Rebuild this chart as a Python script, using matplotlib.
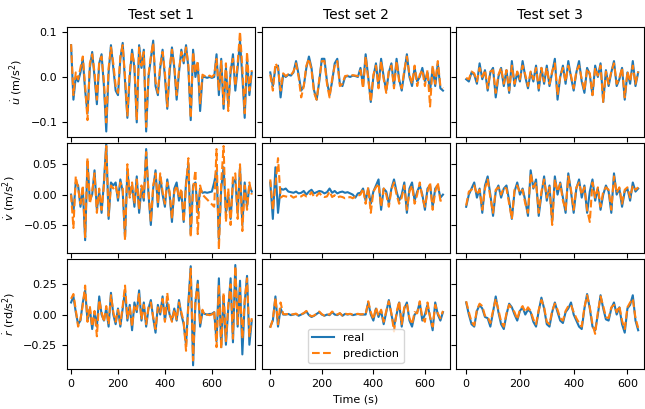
import numpy as np
import matplotlib
matplotlib.use("Agg")
import matplotlib.pyplot as plt

plt.rcParams["font.size"] = 8

# sample times (s), one sample every 10 s
t_set1 = np.arange(0, 780, 10)
t_set2 = np.arange(0, 680, 10)
t_set3 = np.arange(0, 650, 10)

# u_dot (m/s^2)
u1_real = [0.07, -0.05, 0.0, -0.01, 0.01, 0.04, -0.03, -0.08, 0.02, 0.055,
           0.0, -0.06, 0.03, 0.05, -0.02, -0.12, 0.01, 0.07, 0.02, -0.03,
           -0.04, 0.04, 0.075, -0.01, -0.09, 0.0, 0.06, 0.02, -0.10, 0.07,
           0.02, 0.06, -0.12, 0.0, 0.04, 0.08, -0.02, -0.04, 0.02, 0.06,
           0.0, -0.07, 0.01, 0.065, 0.02, -0.05, 0.01, 0.06, 0.03, 0.07,
           0.02, -0.095, 0.06, 0.0, 0.03, -0.075, 0.0, 0.0, -0.002, 0.0,
           -0.002, 0.0, 0.05, -0.04, 0.04, -0.07, 0.02, -0.06, 0.01, 0.05,
           -0.03, 0.02, 0.08, 0.0, -0.09, 0.04, -0.04, 0.01]
u1_pred = [0.072, -0.04, 0.01, -0.005, 0.02, 0.045, -0.02, -0.095, 0.03, 0.05,
           0.01, -0.05, 0.035, 0.045, -0.01, -0.10, 0.02, 0.065, 0.03, -0.02,
           -0.035, 0.045, 0.07, 0.0, -0.085, 0.01, 0.055, 0.025, -0.095, 0.065,
           0.025, 0.055, -0.11, 0.005, 0.045, 0.075, -0.01, -0.035, 0.025, 0.055,
           0.01, -0.065, 0.02, 0.06, 0.025, -0.04, 0.015, 0.055, 0.035, 0.065,
           0.025, -0.09, 0.055, 0.01, 0.035, -0.06, 0.005, 0.002, 0.0, 0.003,
           0.0, 0.005, 0.04, -0.03, 0.035, -0.06, 0.03, -0.075, 0.02, 0.04,
           -0.02, 0.03, 0.10, 0.02, -0.08, 0.055, -0.03, 0.015]
u2_real = [0.01, -0.02, 0.02, 0.025, -0.045, 0.005, 0.0, 0.005, 0.003, 0.01,
           0.035, 0.005, -0.03, -0.02, 0.02, 0.045, 0.02, -0.03, -0.05, -0.01,
           0.04, 0.04, -0.01, -0.04, -0.01, 0.03, 0.04, -0.015, -0.02, 0.0,
           0.002, 0.0, 0.003, 0.002, 0.0, 0.02, -0.02, 0.05, 0.0, -0.055,
           0.0, 0.03, -0.02, 0.04, 0.0, -0.03, 0.01, 0.03, -0.02, 0.04,
           -0.005, -0.03, 0.01, 0.05, 0.0, -0.02, 0.02, -0.01, 0.0, 0.02,
           -0.01, 0.01, -0.03, 0.02, -0.02, 0.03, -0.025, -0.03]
u2_pred = [0.005, -0.03, 0.03, 0.02, -0.03, 0.008, 0.002, 0.006, 0.004, 0.012,
           0.03, 0.0, -0.045, -0.02, 0.025, 0.04, 0.015, -0.035, -0.05, -0.005,
           0.035, 0.035, -0.015, -0.045, -0.005, 0.025, 0.035, -0.02, -0.015, 0.002,
           0.003, 0.002, 0.004, 0.003, 0.002, 0.015, -0.025, 0.045, -0.005, -0.055,
           0.005, 0.025, -0.025, 0.035, -0.005, -0.035, 0.015, 0.025, -0.025, 0.035,
           -0.01, -0.025, 0.015, 0.045, 0.005, -0.015, 0.025, -0.02, 0.005, 0.015,
           -0.02, 0.015, -0.065, 0.025, -0.015, 0.035, -0.02, -0.025]
u3_real = [-0.005, -0.01, 0.01, 0.005, -0.015, 0.03, -0.005, 0.015, -0.03, 0.01,
           0.02, -0.045, 0.0, 0.02, -0.02, 0.015, -0.035, 0.035, -0.02, 0.01,
           -0.01, 0.035, 0.0, -0.025, 0.01, -0.01, 0.025, -0.03, 0.02, -0.015,
           0.025, -0.02, 0.01, 0.04, -0.05, 0.0, 0.025, -0.015, 0.035, 0.0,
           -0.03, 0.01, 0.035, -0.01, -0.035, 0.02, 0.005, -0.04, 0.025, 0.0,
           0.03, -0.055, 0.015, -0.02, 0.01, 0.035, -0.02, -0.005, 0.02, -0.05,
           0.01, -0.015, 0.035, -0.02, 0.01]
u3_pred = [-0.002, -0.005, 0.012, 0.008, -0.01, 0.02, 0.0, 0.015, -0.025, 0.012,
           0.015, -0.035, 0.005, 0.02, -0.015, 0.015, -0.03, 0.025, -0.015, 0.012,
           -0.005, 0.025, 0.005, -0.02, 0.012, -0.005, 0.02, -0.025, 0.02, -0.01,
           0.02, -0.015, 0.012, 0.03, -0.04, 0.002, 0.02, -0.01, 0.025, 0.003,
           -0.025, 0.012, 0.025, -0.005, -0.03, 0.018, 0.008, -0.04, 0.02, 0.003,
           0.025, -0.055, 0.012, -0.015, 0.012, 0.03, -0.015, -0.002, 0.02, -0.045,
           0.012, -0.01, 0.025, -0.015, 0.012]

# v_dot (m/s^2)
v1_real = [0.0, -0.03, 0.02, 0.015, -0.02, 0.01, -0.075, 0.055, -0.01, 0.0,
           0.04, -0.025, 0.005, -0.03, 0.02, 0.085, -0.04, 0.02, 0.015, 0.02,
           -0.01, 0.025, 0.005, -0.07, 0.04, 0.0, 0.015, -0.02, 0.03, -0.03,
           0.01, -0.01, 0.075, 0.0, -0.05, 0.01, 0.04, -0.02, 0.03, 0.0,
           -0.02, 0.025, 0.0, -0.045, 0.01, 0.02, -0.01, 0.005, -0.045, 0.02,
           0.05, -0.065, 0.015, 0.02, -0.03, 0.01, 0.003, 0.004, 0.003, 0.004,
           0.005, 0.02, 0.04, -0.075, 0.01, 0.045, -0.03, 0.0, -0.04, 0.02,
           0.025, -0.03, 0.045, -0.05, 0.02, -0.02, 0.015, 0.005]
v1_pred = [0.0, -0.055, 0.03, 0.01, -0.015, 0.015, -0.07, 0.06, -0.015, 0.005,
           0.035, -0.03, 0.01, -0.025, 0.015, 0.08, -0.035, 0.015, 0.01, 0.015,
           -0.005, 0.02, 0.01, -0.075, 0.05, -0.005, 0.02, -0.015, 0.025, -0.025,
           0.015, -0.005, 0.07, 0.005, -0.045, 0.015, 0.035, -0.015, 0.035, 0.005,
           -0.015, 0.02, 0.005, -0.04, 0.005, 0.015, -0.005, 0.01, -0.045, 0.015,
           0.06, -0.07, 0.01, 0.04, -0.065, 0.015, 0.0, -0.004, -0.008, -0.012,
           -0.016, -0.02, 0.075, -0.09, 0.02, 0.08, -0.045, 0.01, -0.05, 0.03,
           0.035, -0.04, 0.05, -0.06, 0.015, -0.025, 0.02, 0.0]
v2_real = [0.02, -0.04, 0.045, -0.03, 0.01, 0.008, 0.01, 0.005, 0.004, 0.003,
           0.005, 0.002, 0.003, 0.006, 0.0, 0.005, 0.008, 0.002, 0.004, 0.006,
           0.005, 0.002, 0.004, 0.01, 0.003, 0.006, 0.002, 0.004, 0.005, 0.003,
           0.004, 0.002, 0.0, -0.005, 0.002, 0.003, 0.01, -0.01, 0.01, -0.015,
           0.005, 0.015, 0.025, -0.025, 0.01, 0.005, -0.015, 0.01, 0.025, 0.005,
           -0.01, 0.0, 0.02, -0.03, 0.01, 0.02, -0.01, 0.005, 0.015, 0.0,
           -0.025, 0.01, 0.015, -0.02, 0.01, 0.015, -0.005, 0.0]
v2_pred = [0.025, -0.025, 0.015, 0.06, -0.005, -0.002, -0.003, -0.004, -0.002, -0.005,
           -0.003, -0.004, -0.003, 0.0, -0.003, -0.002, 0.004, -0.004, -0.002, 0.003,
           -0.002, -0.004, -0.003, 0.005, -0.004, -0.001, -0.005, -0.003, -0.004, -0.006,
           -0.005, -0.004, -0.006, -0.003, -0.002, 0.0, 0.01, -0.015, 0.012, -0.03,
           0.005, 0.012, 0.018, -0.02, 0.01, 0.0, -0.02, 0.008, 0.02, 0.0,
           -0.015, -0.005, 0.015, -0.025, 0.005, 0.015, -0.015, 0.0, 0.02, -0.005,
           -0.02, 0.005, 0.02, -0.025, 0.005, 0.02, -0.01, -0.01]
v3_real = [-0.02, 0.0, 0.01, 0.02, -0.005, 0.01, -0.03, 0.015, 0.03, 0.0,
           -0.035, 0.005, 0.015, -0.005, 0.01, 0.015, -0.01, -0.04, 0.005, 0.02,
           0.0, 0.01, -0.01, -0.035, 0.04, 0.01, 0.025, -0.035, 0.0, 0.03,
           -0.01, 0.015, -0.045, 0.03, 0.0, 0.02, -0.005, -0.03, 0.035, 0.005,
           -0.03, 0.01, 0.025, -0.005, 0.015, -0.03, 0.005, 0.025, -0.01, 0.01,
           -0.025, 0.0, 0.015, 0.005, -0.03, 0.035, 0.0, 0.01, -0.02, 0.005,
           0.01, -0.01, 0.02, 0.005, 0.01]
v3_pred = [-0.018, 0.005, 0.008, 0.015, 0.0, 0.008, -0.025, 0.01, 0.025, -0.005,
           -0.03, 0.008, 0.012, 0.0, 0.012, 0.01, -0.015, -0.04, 0.008, 0.015,
           0.003, 0.008, -0.015, -0.03, 0.035, 0.012, 0.02, -0.03, 0.005, 0.025,
           -0.005, 0.012, -0.05, 0.025, 0.005, 0.018, -0.01, -0.025, 0.03, 0.008,
           -0.025, 0.012, 0.02, 0.0, 0.012, -0.025, -0.045, 0.02, -0.005, 0.012,
           -0.02, 0.005, 0.012, 0.008, -0.025, 0.03, 0.003, 0.012, -0.015, 0.008,
           0.012, -0.005, 0.015, 0.008, 0.012]

# r_dot (rd/s^2)
r1_real = [0.1, 0.15, 0.02, -0.08, -0.05, 0.1, 0.2, -0.05, 0.05, -0.12,
           0.02, -0.1, 0.15, 0.0, -0.05, 0.05, -0.1, 0.18, 0.0, -0.08,
           0.05, -0.1, 0.05, 0.2, -0.05, 0.08, -0.13, 0.1, 0.02, 0.2,
           -0.05, 0.1, -0.1, 0.05, 0.12, -0.03, -0.15, 0.08, 0.0, 0.15,
           -0.05, 0.1, 0.0, -0.05, 0.05, -0.05, 0.12, 0.0, -0.08, -0.25,
           0.1, 0.4, -0.42, 0.1, 0.28, -0.1, 0.02, 0.005, 0.0, 0.005,
           0.005, 0.02, -0.22, 0.3, -0.27, 0.15, -0.25, 0.05, 0.3, -0.23,
           0.41, -0.1, 0.28, -0.33, 0.1, 0.32, -0.25, -0.05]
r1_pred = [0.13, 0.17, 0.04, -0.1, -0.04, 0.08, 0.24, -0.06, 0.07, -0.1,
           0.03, -0.18, 0.12, 0.02, -0.06, 0.07, -0.08, 0.16, 0.02, -0.06,
           0.04, -0.08, 0.07, 0.24, -0.03, 0.06, -0.1, 0.08, 0.04, 0.17,
           -0.04, 0.08, -0.08, 0.06, 0.1, -0.02, -0.12, 0.06, 0.02, 0.13,
           -0.06, 0.18, 0.01, -0.06, 0.04, -0.04, 0.1, 0.02, -0.06, -0.3,
           0.08, 0.38, -0.38, 0.12, 0.25, -0.08, 0.04, -0.01, 0.0, -0.005,
           0.0, 0.03, -0.27, 0.25, -0.28, 0.18, -0.22, 0.08, 0.25, -0.2,
           0.4, -0.08, 0.22, -0.2, 0.12, 0.3, -0.18, -0.03]
r2_real = [-0.1, -0.05, 0.15, -0.1, 0.05, 0.0, 0.0, 0.005, -0.005, 0.0,
           0.005, -0.01, 0.0, 0.01, 0.025, -0.005, -0.02, -0.01, 0.005, 0.02,
           0.0, -0.01, 0.0, -0.005, 0.02, 0.0, -0.005, 0.01, -0.01, 0.005,
           0.0, 0.005, -0.005, 0.0, 0.005, 0.0, 0.0, 0.0, 0.1, 0.0,
           -0.05, 0.05, -0.02, 0.03, -0.08, 0.02, 0.12, 0.0, -0.1, 0.0,
           0.1, -0.1, 0.05, 0.1, -0.05, -0.1, 0.0, 0.02, 0.1, -0.05,
           0.0, 0.08, -0.02, -0.13, 0.1, 0.0, -0.05, 0.02]
r2_pred = [-0.11, -0.04, 0.14, -0.08, 0.1, 0.005, 0.002, 0.005, 0.0, 0.003,
           0.008, -0.008, 0.002, 0.012, 0.03, 0.0, -0.015, -0.008, 0.008, 0.025,
           0.003, -0.008, 0.003, 0.0, 0.025, 0.004, 0.0, 0.012, -0.008, 0.008,
           0.003, 0.006, 0.0, 0.003, 0.006, 0.002, 0.003, 0.0, 0.11, 0.02,
           -0.04, 0.06, -0.01, 0.04, -0.06, 0.03, 0.11, 0.01, -0.14, 0.02,
           0.11, -0.08, 0.06, 0.09, -0.03, -0.08, 0.02, 0.01, 0.11, -0.03,
           -0.06, 0.1, -0.02, -0.1, 0.08, 0.01, -0.03, 0.03]
r3_real = [0.1, 0.0, -0.08, -0.1, 0.03, 0.08, 0.05, -0.02, -0.03, -0.1,
           0.02, 0.15, 0.02, -0.08, -0.12, 0.0, 0.09, 0.06, 0.0, -0.05,
           0.03, 0.06, 0.0, 0.04, 0.02, -0.06, -0.1, 0.03, 0.14, 0.05,
           -0.08, -0.1, 0.02, 0.1, 0.02, -0.05, -0.07, 0.02, 0.05, 0.1,
           0.0, -0.05, -0.1, -0.12, 0.05, 0.17, 0.05, -0.1, -0.13, 0.0,
           0.16, 0.05, -0.04, -0.05, 0.05, 0.1, 0.0, 0.06, -0.08, -0.15,
           0.05, 0.08, 0.16, -0.05, -0.13]
r3_pred = [0.11, 0.02, -0.06, -0.09, 0.04, 0.09, 0.07, -0.01, -0.02, -0.07,
           0.03, 0.13, 0.04, -0.06, -0.1, 0.01, 0.08, 0.05, 0.02, -0.04,
           0.04, 0.07, 0.02, 0.06, 0.03, -0.04, -0.08, 0.04, 0.12, 0.06,
           -0.06, -0.08, 0.03, 0.09, 0.04, -0.03, -0.05, 0.03, 0.07, 0.08,
           0.02, -0.03, -0.07, -0.1, 0.06, 0.16, 0.06, -0.08, -0.16, 0.02,
           0.15, 0.07, -0.02, -0.03, 0.06, 0.08, 0.02, 0.07, -0.05, -0.12,
           0.06, 0.1, 0.13, -0.03, -0.11]

titles = ["Test set 1", "Test set 2", "Test set 3"]
ylabels = [r"$\dot{u}$ (m/s$^2$)", r"$\dot{v}$ (m/s$^2$)", r"$\dot{r}$ (rd/s$^2$)"]
yticks = [[-0.1, 0.0, 0.1], [-0.05, 0.0, 0.05], [-0.25, 0.0, 0.25]]
ylims = [(-0.132, 0.110), (-0.096, 0.085), (-0.45, 0.46)]
xlims = [(-17, 786), (-34, 697), (-38, 663)]
times = [t_set1, t_set2, t_set3]

data = [
    [(u1_real, u1_pred), (u2_real, u2_pred), (u3_real, u3_pred)],
    [(v1_real, v1_pred), (v2_real, v2_pred), (v3_real, v3_pred)],
    [(r1_real, r1_pred), (r2_real, r2_pred), (r3_real, r3_pred)],
]

fig, axes = plt.subplots(3, 3, sharex="col", sharey="row", figsize=(6.45, 4.09), dpi=100)
fig.subplots_adjust(left=0.104, right=0.999, top=0.934, bottom=0.098,
                    wspace=0.032, hspace=0.055)

for i in range(3):
    for j in range(3):
        ax = axes[i, j]
        real, pred = data[i][j]
        ax.plot(times[j], real, color="C0", lw=1.5, label="real")
        ax.plot(times[j], pred, color="C1", lw=1.5, ls="--", label="prediction")
        ax.set_xlim(*xlims[j])
        ax.set_ylim(*ylims[i])
        ax.set_yticks(yticks[i])
        ax.set_xticks([0, 200, 400, 600])
        if i == 0:
            ax.set_title(titles[j], fontsize=10)
    axes[i, 0].set_ylabel(ylabels[i])

axes[2, 1].set_xlabel("Time (s)")
axes[2, 1].legend(loc="lower center")

fig.savefig("out.png", dpi=100)
